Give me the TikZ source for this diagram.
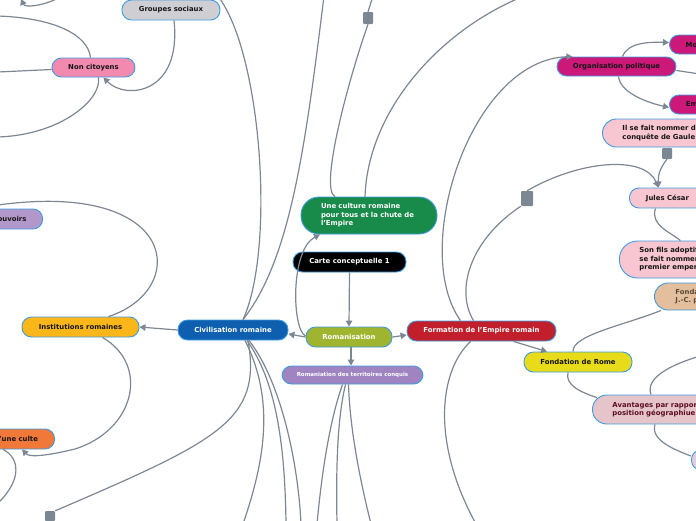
\documentclass[tikz,border=0pt]{standalone}
\usepackage{fontspec}
\setmainfont{DejaVu Sans}
\usetikzlibrary{arrows.meta, positioning}

\definecolor{linkgray}{HTML}{7C8794}
\definecolor{rimblue}{HTML}{3F9BDF}
\definecolor{ink}{HTML}{151515}
\definecolor{gsgray}{HTML}{CFCFD3}
\definecolor{ncpink}{HTML}{F28AB0}
\definecolor{pvlilac}{HTML}{B197CA}
\definecolor{inamber}{HTML}{FBB719}
\definecolor{cuorange}{HTML}{F07839}
\definecolor{civblue}{HTML}{0E5FB0}
\definecolor{cugreen}{HTML}{188A4A}
\definecolor{roolive}{HTML}{A0B52F}
\definecolor{rtpurple}{HTML}{9F84C1}
\definecolor{fored}{HTML}{C01F2B}
\definecolor{fryellow}{HTML}{E8DB1A}
\definecolor{opmagenta}{HTML}{CB1879}
\definecolor{lpink}{HTML}{F8C6D1}
\definecolor{tanfill}{HTML}{E3BF9D}
\definecolor{fondtext}{HTML}{5A4A3A}
\definecolor{avpink}{HTML}{E6C5CA}
\definecolor{avtext}{HTML}{5A0F1E}
\definecolor{smlilac}{HTML}{E3CCDD}

\begin{document}
\begin{tikzpicture}[
  x=1pt, y=-1pt,
  box/.style={draw=rimblue, line width=0.9pt, rounded corners=9.5pt, minimum height=20pt, inner sep=0pt, align=center, text=ink, font=\fontsize{6.9}{8.5}\selectfont\bfseries},
  tall/.style={rounded corners=#1, align=left, inner xsep=20pt},
  link/.style={draw=linkgray, line width=1.2pt},
  arrow/.style={link, -{Triangle[length=6pt, width=6.5pt]}},
  knot/.style={fill=linkgray, rounded corners=1pt, inner sep=0pt}
]
\useasboundingbox (0,0) rectangle (696,520);
\clip (0,0) rectangle (696,520);

% left branch
\node[box, fill=gsgray, minimum width=98pt] (groupes) at (171,10) {Groupes sociaux};
\node[box, fill=ncpink, minimum width=83pt, minimum height=19pt] (noncit) at (93.5,67.5) {Non citoyens};
\node[box, fill=pvlilac, minimum width=66pt, anchor=east] (pouvoirs) at (43,219) {Pouvoirs};
\node[box, fill=inamber, minimum width=117pt] (instit) at (80.5,327) {Institutions romaines};
\node[box, fill=cuorange, minimum width=77pt, anchor=east] (culte) at (55,439) {d'une culte};
\node[box, fill=civblue, text=white, minimum width=110pt] (civ) at (233,330) {Civilisation romaine};

% centre
\node[box, tall=18pt, fill=cugreen, text=white, text width=96pt, minimum height=37pt] (culture) at (369,215.5) {Une culture romaine\\pour tous et la chute de\\l'Empire};
\node[box, fill=black, text=white, minimum width=113pt] (carte) at (349.5,262) {Carte conceptuelle 1};
\node[box, fill=roolive, text=white, minimum width=86pt] (roman) at (349,337) {Romanisation};
\node[box, fill=rtpurple, text=white, minimum width=141pt, minimum height=18pt, font=\fontsize{5.5}{6.5}\selectfont\bfseries] (territ) at (352.5,375) {Romaniation des territoires conquis};
\node[box, fill=fored, text=white, minimum width=149pt] (formation) at (481.5,331) {Formation de l'Empire romain};
\node[box, fill=fryellow, minimum width=108pt] (rome) at (578,362) {Fondation de Rome};

% right branch
\node[box, fill=opmagenta, minimum width=119pt, minimum height=19pt] (orga) at (616.5,66.5) {Organisation politique};
\node[box, fill=opmagenta, anchor=west, minimum width=73pt, minimum height=19pt] (monarchie) at (669,44.5) {Monarchie};
\node[box, fill=opmagenta, anchor=west, minimum width=60pt, minimum height=19pt] (empire) at (669,104.5) {Empire};
\node[box, tall=14pt, fill=lpink, anchor=west, text width=150pt, minimum height=28pt] (dictateur) at (602,133) {Il se fait nommer dictateur après la\\conquête de Gaule};
\node[box, fill=lpink, anchor=west, minimum width=76pt] (cesar) at (629,198) {Jules César};
\node[box, tall=18pt, fill=lpink, anchor=west, text width=120pt, minimum height=37pt] (octave) at (619,259.5) {Son fils adoptif Octave\\se fait nommer Auguste,\\premier empereur};
\node[box, tall=13.5pt, inner xsep=21pt, fill=tanfill, text=fondtext, anchor=west, text width=130pt, minimum height=27pt] (fondateur) at (654,296.5) {Fondation de Rome en 753 av.\\J.-C. par Romulus};
\node[box, tall=14.5pt, fill=avpink, text=avtext, anchor=west, text width=130pt, minimum height=29pt] (avantages) at (592,409.5) {Avantages par rapport à sa\\position géographiue};
\node[box, fill=smlilac, anchor=west, minimum width=60pt] (site) at (691,460) {};

% joints
\node[knot, minimum width=10pt, minimum height=12pt] (k1) at (368,18) {};
\node[knot, minimum width=12pt, minimum height=15pt] (k2) at (527,198.5) {};
\node[knot, minimum width=10pt, minimum height=11pt] (k3) at (667,153.5) {};
\node[knot, minimum width=10pt, minimum height=10pt] (k4) at (50,516) {};

% loose ends outside the frame
\coordinate (nw1) at (62,-4);
\coordinate (nw2) at (21,-1);
\coordinate (w1) at (-2,16);
\coordinate (w2) at (-2,72);
\coordinate (w3) at (-2,137);
\coordinate (w4) at (-2,205);
\coordinate (w5) at (-2,503);
\coordinate (n1) at (324,-4);
\coordinate (n2) at (373,-4);
\coordinate (n3) at (524,-4);
\coordinate (e1) at (700,74);
\coordinate (e2) at (700,356);
\coordinate (s1) at (243,524);
\coordinate (s2) at (286,524);
\coordinate (s3) at (301,524);
\coordinate (s4) at (317,524);
\coordinate (s5) at (337,524);
\coordinate (s6) at (371,524);
\coordinate (s7) at (476,524);

% connectors, left
\draw[arrow] (nw1) .. controls (45,6) and (25,8) .. (nw2);
\draw[link] ([xshift=-3pt]noncit.north) .. controls (88,35) and (55,18) .. (w1);
\draw[link] ([yshift=-2pt]noncit.west) -- (w2);
\draw[link] ([xshift=5pt]noncit.south) .. controls (102,100) and (60,135) .. (w3);
\draw[arrow] ([xshift=3pt]groupes.south) .. controls (182,95) and (125,100) .. ([xshift=10pt]noncit.south);
\draw[link] ([xshift=10pt]civ.north) .. controls (275,250) and (262,60) .. (groupes.north east);
\draw[link] ([xshift=10pt]civ.north) .. controls (290,260) and (305,150) .. (n1);
\draw[arrow] (civ.west) -- (instit.east);
\draw[link] ([xshift=28pt]instit.north) .. controls (190,290) and (180,180) .. (w4);
\draw[arrow] ([xshift=22pt]instit.south) .. controls (150,365) and (135,430) .. (75,449) .. controls (50,455) and (30,458) .. ([xshift=6pt]culte.south);
\draw[link] ([xshift=-13pt]culte.south) .. controls (20,458) and (22,480) .. (w5);
\draw[link] ([xshift=15pt]civ.south) .. controls (262,420) and (220,440) .. (k4.north east);
\draw[link] ([xshift=12pt]civ.south) .. controls (275,400) and (265,460) .. (s1);
\draw[link] ([xshift=14pt]civ.south) .. controls (275,380) and (285,440) .. (s2);
\draw[link] ([xshift=16pt]civ.south) .. controls (280,380) and (298,460) .. (s3);

% connectors, centre
\draw[link] (k1.north) -- (n2);
\draw[link] (k1.south) .. controls (345,90) and (320,190) .. ([xshift=-34pt]culture.north);
\draw[link] (n3) .. controls (440,30) and (368,110) .. ([xshift=-4pt]culture.north);
\draw[arrow] (roman.west) -- ([yshift=-4pt]civ.east);
\draw[arrow] ([yshift=1pt]roman.west) .. controls (292,330) and (290,250) .. ([xshift=-49pt]culture.south);
\draw[arrow] (carte.south) -- (roman.north);
\draw[arrow] (roman.east) -- ([yshift=-4pt]formation.west);
\draw[arrow] ([xshift=2pt]roman.south) -- ([xshift=-1.5pt]territ.north);
\draw[link] ([xshift=-10pt]territ.south) .. controls (330,420) and (322,470) .. (s4);
\draw[link] ([xshift=-7pt]territ.south) .. controls (337,420) and (336,470) .. (s5);
\draw[link] ([xshift=-4pt]territ.south) .. controls (350,430) and (360,480) .. (s6);

% connectors, right
\draw[link] (k2.south west) .. controls (470,240) and (455,290) .. ([xshift=-8pt]formation.north);
\draw[arrow] ([xshift=-21pt]formation.north) .. controls (410,250) and (470,60) .. ([xshift=-44pt]orga.north);
\draw[arrow] (k2.north) .. controls (580,160) and (645,155) .. ([xshift=-9pt]cesar.north);
\draw[arrow] (k3.south) .. controls (660,168) and (658,175) .. ([xshift=-9pt]cesar.north);
\draw[link] ([xshift=-12pt]cesar.south) .. controls (650,225) and (670,232) .. ([xshift=-19pt]octave.north);
\draw[arrow] ([xshift=6pt]orga.north) .. controls (628,42) and (650,42) .. ([yshift=2pt]monarchie.west);
\draw[arrow] ([xshift=2pt]orga.south) .. controls (620,92) and (645,102) .. ([yshift=-3pt]empire.west);
\draw[link] ([yshift=-4pt]orga.east) -- (e1);
\draw[arrow] ([xshift=32pt]formation.south) -- ([xshift=-31pt]rome.north);
\draw[link] ([xshift=-11pt]formation.south) .. controls (440,370) and (430,440) .. (s7);
\draw[link] ([xshift=-5pt]rome.north) .. controls (572,335) and (625,325) .. ([xshift=7pt]fondateur.south west);
\draw[link] ([xshift=-10pt]rome.south) .. controls (565,385) and (580,392) .. ([xshift=5pt,yshift=-3pt]avantages.north west);
\draw[link] ([xshift=59pt]avantages.north west) .. controls (645,378) and (670,365) .. (e2);
\draw[link] ([xshift=63pt]avantages.south west) .. controls (650,440) and (675,450) .. ([yshift=4pt]site.west);

\end{tikzpicture}
\end{document}
